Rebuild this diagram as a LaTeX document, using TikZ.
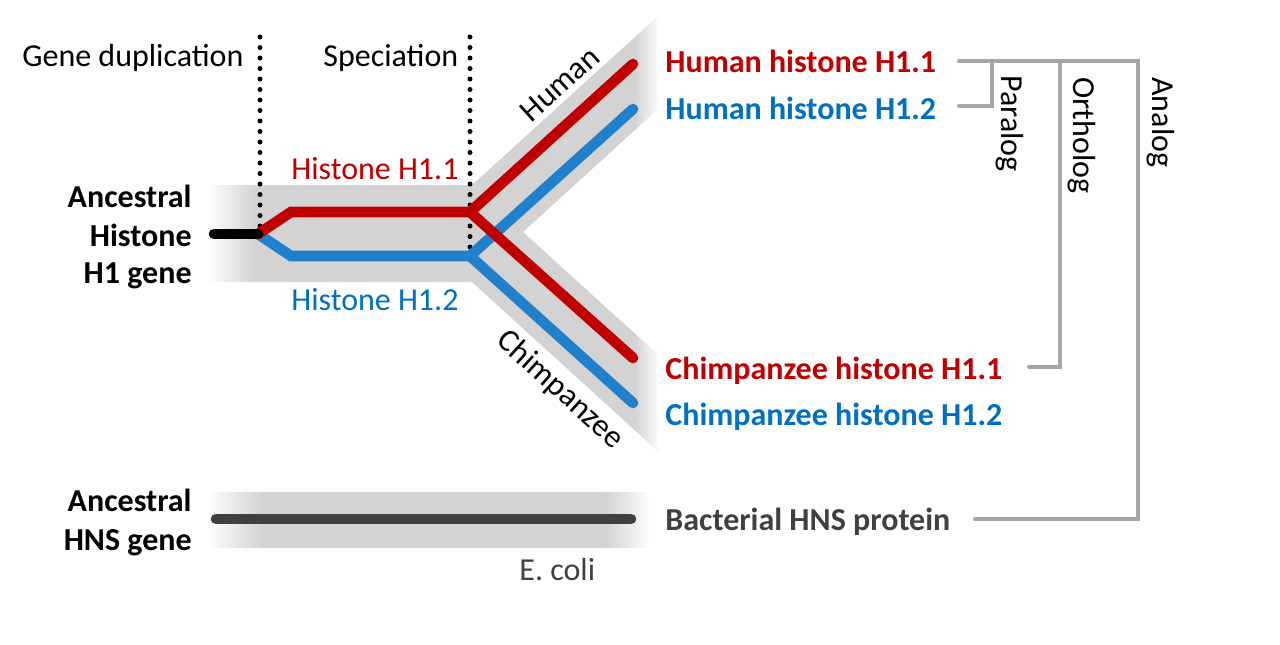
\documentclass[tikz,border=0pt]{standalone}
\usepackage{fontspec}
\setmainfont{Carlito}
\definecolor{bandgray}{RGB}{211,211,211}
\definecolor{hred}{RGB}{192,0,0}
\definecolor{hblue}{RGB}{33,128,204}
\definecolor{tblue}{RGB}{0,112,192}
\definecolor{dgray}{RGB}{64,64,64}
\definecolor{bgray}{RGB}{166,166,166}
\pgfdeclarehorizontalshading{topbandshade}{100bp}{color(0bp)=(white); color(25bp)=(white); color(30.3bp)=(bandgray); color(72.2bp)=(bandgray); color(75bp)=(white); color(100bp)=(white)}
\pgfdeclarehorizontalshading{botbandshade}{100bp}{color(0bp)=(white); color(25bp)=(white); color(31.3bp)=(bandgray); color(69.9bp)=(bandgray); color(75bp)=(white); color(100bp)=(white)}
\begin{document}
\begin{tikzpicture}[x=0.5pt,y=-0.5pt,
  lbl/.style={inner sep=0pt,font=\fontsize{16}{19}\selectfont},
  blbl/.style={lbl,font=\fontsize{16}{19}\selectfont\bfseries},
  gene/.style={line width=5.3pt,line cap=round,line join=miter},
  dots/.style={line width=2.5pt,line cap=round,dash pattern=on 0pt off 5.25pt},
  bracket/.style={bgray,line width=2pt,line cap=round,line join=miter}]
\useasboundingbox (0,0) rectangle (1280,644);
% bands
\shade[shading=topbandshade] (207,185) -- (472,185) -- (660,14.3) -- (660,107.2) -- (523,232) -- (660,356.4) -- (660,453.2) -- (472,282) -- (207,282) -- cycle;
\shade[shading=botbandshade] (207,492) rectangle (650,547);
% coordinates
\coordinate (a0) at (214,234);
\coordinate (dup) at (258,234);
\coordinate (rc) at (291,212);
\coordinate (bc) at (291,256);
\coordinate (rs) at (470,212);
\coordinate (bs) at (470,256);
\coordinate (hr) at (633,64);
\coordinate (hb) at (633,109);
\coordinate (cr) at (633,358);
\coordinate (cb) at (633,403);
\coordinate (e0) at (216,519);
\coordinate (e1) at (631,519);
% dotted lines
\coordinate (d1t) at (260,37);
\coordinate (d1b) at (260,226);
\coordinate (d2t) at (470,37);
\coordinate (d2b) at (470,258);
\draw[dots] (d1t) -- (d1b);
\draw[dots] (d2t) -- (d2b);
% gene lines
\draw[gene,hblue] (dup) -- (bc) -- (bs) -- (hb);
\draw[gene,hblue] (bs) -- (cb);
\draw[gene,hred] (dup) -- (rc) -- (rs) -- (hr);
\draw[gene,hred] (rs) -- (cr);
\draw[gene,black] (a0) -- (dup);
\draw[gene,dgray] (e0) -- (e1);
% top labels
\node[lbl,anchor=base west] (gd) at (22,66.5) {Gene duplication};
\node[lbl,anchor=base west] (sp) at (323,66.5) {Speciation};
\node[lbl,anchor=base west,text=hred] (h11) at (291,179.5) {Histone H1.1};
\node[lbl,anchor=base west,text=tblue] (h12) at (291,310.5) {Histone H1.2};
\node[lbl,rotate=42] (hum) at (560,84) {Human};
\node[lbl,rotate=-42] (chi) at (560,390) {Chimpanzee};
\node[lbl,anchor=base west,text=dgray] (eco) at (519,580.5) {E. coli};
% left labels
\node[blbl,anchor=base east] (l1) at (192,207.5) {Ancestral};
\node[blbl,anchor=base east] (l2) at (192,246.5) {Histone};
\node[blbl,anchor=base east] (l3) at (192,283.5) {H1 gene};
\node[blbl,anchor=base east] (l4) at (192,511.5) {Ancestral};
\node[blbl,anchor=base east] (l5) at (192,550) {HNS gene};
% right labels
\node[blbl,anchor=base west,text=hred] (t1) at (665,72.5) {Human histone H1.1};
\node[blbl,anchor=base west,text=tblue] (t2) at (665,119.5) {Human histone H1.2};
\node[blbl,anchor=base west,text=hred] (t3) at (665,379) {Chimpanzee histone H1.1};
\node[blbl,anchor=base west,text=tblue] (t4) at (665,425) {Chimpanzee histone H1.2};
\node[blbl,anchor=base west,text=dgray] (t5) at (665,530.5) {Bacterial HNS protein};
% brackets
\coordinate (b1) at (959,61);
\coordinate (b2) at (959,106);
\coordinate (b3) at (1029,367);
\coordinate (b4) at (975,519);
\coordinate (pv) at (992,61);
\coordinate (ov) at (1060,61);
\coordinate (av) at (1138,61);
\draw[bracket] (b1) -- (av) -- (av |- b4) -- (b4);
\draw[bracket] (pv) -- (pv |- b2) -- (b2);
\draw[bracket] (ov) -- (ov |- b3) -- (b3);
\node[lbl,rotate=-90,anchor=south west] (par) at (996,75) {Paralog};
\node[lbl,rotate=-90,anchor=south west] (ort) at (1068,77) {Ortholog};
\node[lbl,rotate=-90,anchor=south west] (ana) at (1147,77) {Analog};
\end{tikzpicture}
\end{document}
